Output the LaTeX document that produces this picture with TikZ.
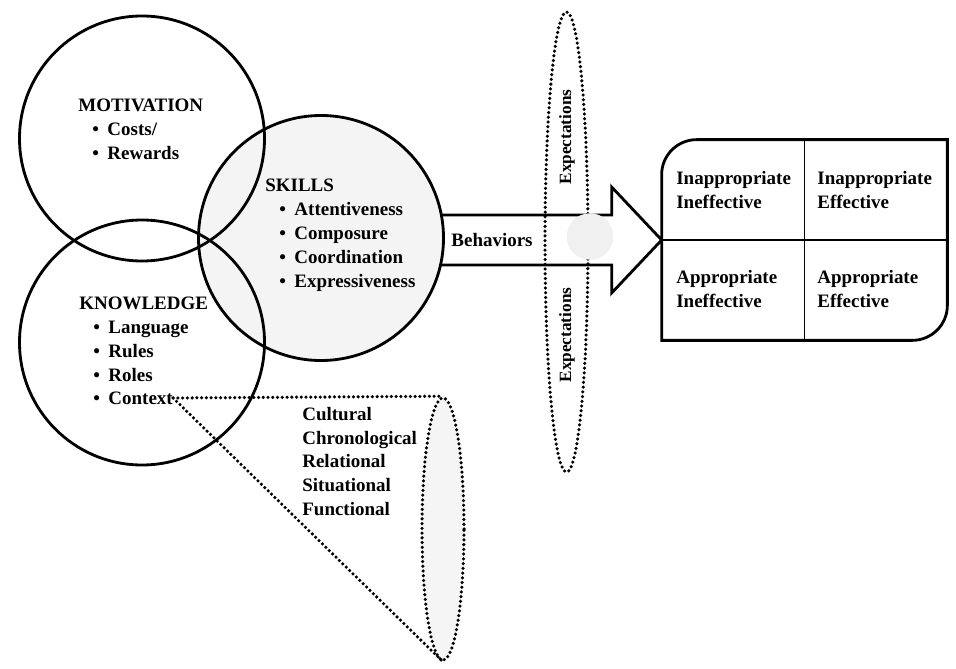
\documentclass[tikz,border=0pt]{standalone}
\usepackage{fontspec}
\setmainfont{Liberation Serif}
\usepackage{tikz}
\usetikzlibrary{shapes.geometric}

\newcommand{\itm}{\hspace*{0.28cm}\textbullet\hspace{0.17cm}}

\begin{document}
\begin{tikzpicture}
\tikzset{ring/.style={circle, draw, line width=1.6pt, minimum size=4.9cm, inner sep=0pt},
 txt/.style={align=left, inner sep=0pt, font=\fontsize{10.8}{13.6}\selectfont\bfseries},
 dots/.style={line width=2pt, dash pattern=on 0pt off 2.7pt, line cap=round},
 oval/.style={ellipse, dots, draw, inner sep=0pt}};
\useasboundingbox (0,0) rectangle (19.12,13.36);
\node [rectangle, inner sep=0pt, minimum width=5.7cm, minimum height=4cm] (out) at (16.09,8.56) {};
\draw [line width=1.6pt, fill=white] (out.west) -- ++(-1,1.06) -- ++(0,-0.56) -- ++(-4.6,0) -- ++(0,-1) -- ++(4.6,0) -- ++(0,-0.56) -- cycle;
\node [ring, fill=gray!9] (skl) at (6.42,8.60) {};
\node [ring] (mot) at (2.84,10.59) {};
\node [ring] (knw) at (2.84,6.51) {};
\node [oval, minimum width=0.86cm, minimum height=9.2cm] (exp) at (11.33,8.52) {};
\node [circle, fill=gray!12, inner sep=0pt, minimum size=0.93cm] (spot) at (11.80,8.63) {};
\node [txt, anchor=west] (motT) at (1.56,10.78) {MOTIVATION\\\itm Costs/\\\itm Rewards};
\node [txt, anchor=west] (sklT) at (5.30,8.66) {SKILLS\\\itm Attentiveness\\\itm Composure\\\itm Coordination\\\itm Expressiveness};
\node [txt, anchor=west] (knwT) at (1.58,6.57) {KNOWLEDGE\\\itm Language\\\itm Rules\\\itm Roles};
\node [txt, anchor=west] (ctx) at (1.58,5.40) {\itm Context};
\node [txt] (beh) at (9.84,8.56) {Behaviors};
\node [txt, font=\fontsize{9.8}{12}\selectfont\bfseries, rotate=90] (expU) at (11.34,10.62) {Expectations};
\node [txt, font=\fontsize{9.8}{12}\selectfont\bfseries, rotate=90] (expD) at (11.34,6.66) {Expectations};
\draw [line width=1.6pt] (out.south west) -- ([yshift=-0.7cm]out.north west) arc[start angle=180, end angle=90, radius=0.7cm] -- (out.north east) -- ([yshift=0.7cm]out.south east) arc[start angle=0, end angle=-90, radius=0.7cm] -- cycle;
\draw [line width=0.8pt] (out.north) -- (out.south) (out.west) -- (out.east);
\node [txt, anchor=west] (c11) at (13.52,9.56) {Inappropriate\\Ineffective};
\node [txt, anchor=west] (c12) at (16.34,9.56) {Inappropriate\\Effective};
\node [txt, anchor=west] (c21) at (13.52,7.58) {Appropriate\\Ineffective};
\node [txt, anchor=west] (c22) at (16.34,7.58) {Appropriate\\Effective};
\node [oval, fill=gray!8, minimum width=0.84cm, minimum height=5.24cm] (base) at (8.86,2.78) {};
\draw [dots] (ctx.east) -- (base.north);
\draw [dots] (ctx.east) -- (base.south);
\node [txt, anchor=west] (kinds) at (6.04,4.13) {Cultural\\Chronological\\Relational\\Situational\\Functional};
\end{tikzpicture}
\end{document}
